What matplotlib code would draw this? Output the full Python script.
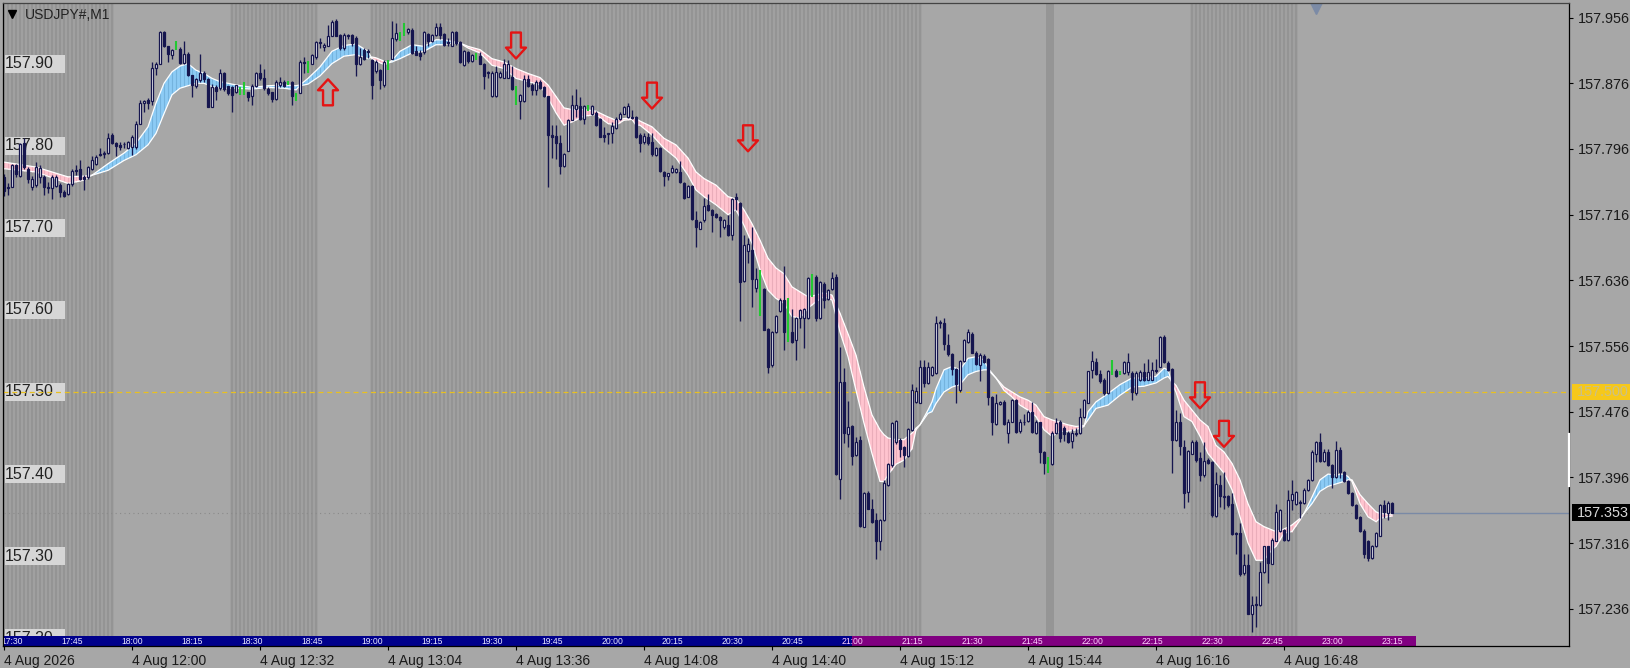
import numpy as np
import matplotlib
matplotlib.use("Agg")
import matplotlib.pyplot as plt
from matplotlib.path import Path
from matplotlib.patches import Rectangle
from matplotlib.transforms import blended_transform_factory

plt.rcParams['font.family'] = ['Liberation Sans', 'DejaVu Sans']

# all prices are thousandths above 157.000, one entry per M1 bar
opens = [762,750,750,776,763,803,772,750,752,762,
 762,750,748,751,752,743,741,753,770,772,
 762,762,772,778,790,790,791,813,803,801,
 802,797,798,798,826,852,856,854,895,899,
 938,921,910,916,918,901,912,886,873,880,
 889,881,847,871,870,889,873,872,866,862,
 862,865,860,873,888,882,869,865,857,874,
 877,874,878,854,864,902,889,900,908,926,
 920,921,934,952,935,919,935,935,931,900,
 917,915,904,891,892,874,892,906,930,927,
 933,938,941,915,913,914,936,927,935,945,
 936,926,922,938,926,898,914,903,904,909,
 899,890,860,860,884,883,883,884,850,854,
 854,881,874,868,878,871,860,813,812,803,
 775,794,831,845,848,832,842,839,840,833,
 813,814,815,822,832,839,835,835,835,813,
 804,811,804,789,797,768,763,768,768,768,
 755,738,751,710,699,709,728,722,717,713,
 701,703,691,738,730,635,672,673,627,593,
 626,577,533,573,599,612,561,573,563,590,
 590,590,616,640,590,632,613,625,640,394,
 512,449,458,423,441,336,377,357,344,319,
 344,387,411,439,442,433,422,454,488,487,
 530,511,521,523,585,584,557,546,528,502,
 538,561,571,547,533,544,540,494,461,485,
 488,450,464,490,452,464,465,476,450,463,
 427,401,412,450,464,456,450,440,450,450,
 469,487,527,536,522,515,499,521,525,521,
 523,524,523,499,515,524,515,515,527,531,
 567,535,528,441,464,433,378,425,439,419,
 399,417,415,349,387,373,373,364,328,328,
 279,289,230,242,240,281,312,291,319,331,
 332,320,369,364,366,365,381,393,425,439,
 416,427,411,396,429,403,392,377,362,348,
 331,318,298,312,325,362,353,365]
highs = [766,754,778,778,803,809,774,763,780,776,
 764,756,764,764,754,746,754,771,776,782,
 764,775,787,789,797,793,815,816,805,804,
 805,806,813,830,856,856,858,902,902,940,
 940,922,918,928,920,927,914,886,883,912,
 891,883,875,874,894,890,873,873,874,871,
 878,866,875,890,900,894,872,866,880,884,
 880,879,879,864,904,908,903,912,928,931,
 925,947,953,954,936,937,936,936,933,919,
 919,918,906,904,893,904,904,952,949,939,
 950,943,943,921,917,940,937,936,949,950,
 937,931,940,940,927,916,915,912,913,914,
 901,891,891,897,891,906,904,897,873,863,
 886,886,876,880,880,873,861,825,825,813,
 791,833,862,869,859,849,850,850,842,834,
 823,816,829,835,841,848,852,843,836,815,
 815,815,815,798,798,769,767,776,773,781,
 756,752,752,720,708,736,741,723,718,714,
 711,716,736,742,732,691,687,701,651,648,
 627,578,574,594,614,654,614,601,591,601,
 602,640,644,642,635,634,626,646,644,555,
 529,489,460,445,446,378,380,370,352,345,
 393,413,463,466,444,434,456,510,506,539,
 539,537,532,592,588,590,571,548,529,539,
 564,577,573,550,547,546,541,495,498,489,
 490,467,491,492,467,473,478,488,466,464,
 428,421,452,468,466,458,452,455,456,481,
 491,526,550,541,527,517,527,539,528,525,
 538,547,525,525,527,535,540,537,540,568,
 569,538,529,478,474,441,429,442,441,427,
 439,419,416,403,399,403,374,377,329,341,
 303,303,251,251,293,313,313,322,364,358,
 333,381,393,380,368,383,394,429,440,450,
 431,431,412,440,433,404,393,378,363,349,
 333,320,314,329,364,368,367,366]
lows = [739,740,750,762,762,772,754,746,750,754,
 740,742,735,750,738,738,740,751,764,758,
 746,760,770,776,787,785,790,802,787,795,
 797,796,789,796,826,841,845,850,886,899,
 920,902,906,916,900,900,885,859,870,878,
 878,847,847,856,868,867,862,841,864,862,
 862,854,849,871,880,868,862,853,856,872,
 871,874,850,854,864,888,889,899,906,919,
 915,921,934,934,917,917,930,921,885,898,
 904,907,857,889,869,872,892,905,927,927,
 933,936,912,910,904,912,921,926,934,930,
 921,922,921,923,901,897,901,902,904,899,
 869,883,859,859,882,882,882,868,850,833,
 853,872,862,862,869,859,750,785,784,765,
 774,794,831,835,831,827,842,837,824,810,
 804,802,803,820,831,838,834,833,809,792,
 802,801,787,788,768,751,758,767,767,755,
 735,737,710,676,698,707,721,695,712,689,
 698,690,685,722,586,634,657,604,622,593,
 575,523,530,572,598,551,561,560,539,578,
 553,589,616,586,589,602,612,624,399,370,
 438,433,411,422,336,335,357,341,297,308,
 343,386,409,437,421,409,421,453,487,486,
 506,510,520,522,578,551,544,521,487,500,
 537,560,547,533,513,535,484,447,460,484,
 460,438,463,450,450,460,464,450,449,414,
 400,401,411,449,439,440,438,432,446,449,
 468,486,517,521,511,496,498,521,518,521,
 522,521,490,496,513,513,514,514,523,530,
 535,526,401,440,423,359,366,424,415,391,
 396,412,348,348,360,358,360,326,303,276,
 277,229,208,214,239,280,267,290,318,330,
 319,319,356,362,346,364,380,392,415,415,
 415,410,383,395,395,390,376,361,345,330,
 298,294,296,311,324,346,344,352]
closes = [745,748,776,765,802,774,760,760,774,773,
 750,748,762,762,744,739,753,769,769,759,
 760,774,782,786,789,791,809,803,800,799,
 802,804,810,827,852,854,852,895,899,938,
 921,912,916,928,901,912,886,874,881,889,
 881,847,872,867,889,869,864,862,874,871,
 878,859,873,888,882,870,864,857,877,877,
 873,879,860,864,902,901,903,910,926,925,
 923,934,951,934,919,935,934,925,899,908,
 906,914,874,902,880,902,904,931,937,939,
 950,942,913,911,909,939,927,935,945,935,
 923,925,938,925,902,915,903,910,913,900,
 885,888,889,890,889,900,900,869,873,862,
 881,873,868,878,870,860,813,811,803,775,
 790,831,850,850,832,848,850,848,825,811,
 811,815,824,833,839,847,848,834,810,803,
 812,803,790,797,769,763,767,773,772,756,
 736,751,711,701,707,726,722,715,713,709,
 709,691,735,735,634,679,680,638,638,648,
 576,531,573,593,612,573,614,561,590,600,
 601,639,644,590,634,612,624,639,400,512,
 450,457,422,439,337,377,358,342,319,344,
 389,412,462,465,431,423,455,502,501,530,
 511,531,531,584,584,559,546,528,510,538,
 563,573,548,534,545,537,494,463,487,488,
 461,463,490,451,463,463,476,451,463,427,
 413,421,450,462,444,449,439,450,449,469,
 490,525,538,522,513,499,526,539,519,525,
 537,537,500,523,524,515,524,527,526,567,
 537,527,441,463,434,377,428,439,417,399,
 416,414,350,388,373,372,362,327,327,278,
 289,230,241,240,281,312,292,320,354,356,
 320,369,376,378,365,381,393,427,439,416,
 427,411,396,429,403,391,377,362,346,331,
 303,298,312,328,362,354,365,353]
# bars the indicator paints green
green_bars = [43,59,60,71,73,76,96,99,100,118,128,146,189,196,202,261,277,279]

# two moving averages
ma_bars = [0,8,16,20,22,26,30,33,36,38,40,42,44,46,48,50,52,54,58,62,66,70,73,74,76,79,82,85,88,91,92,93,95,96,97,99,
 102,105,108,110,112,114,116,119,122,125,128,131,134,136,138,140,142,145,148,151,153,155,157,158,159,162,165,168,
 171,173,175,178,181,183,185,187,189,191,193,195,197,199,201,203,205,207,209,211,213,215,217,219,220,221,223,225,
 227,228,229,231,232,233,235,237,239,241,243,245,246,248,250,252,254,256,258,260,262,264,266,268,270,271,273,276,
 279,282,285,288,290,291,292,293,295,297,299,301,303,305,307,309,311,313,315,317,318,320,322,324,325,327,329,331,
 333,335,336,337,339,341,343,344,347]
ma_fast = [772,768,754,758,764,778,791,803,823,852,876,890,897,900,892,888,882,878,874,871,873,874,873,874,882,896,915,922,924,915,906,903,899,900,904,915,
 923,921,929,929,927,925,919,913,898,894,882,878,874,858,840,825,829,836,838,827,825,831,832,825,825,813,797,785,
 764,746,738,728,716,722,703,681,649,624,614,608,592,590,602,610,616,612,573,543,502,462,425,391,391,399,412,417,
 431,454,460,478,488,504,527,531,527,541,543,539,529,517,502,494,484,478,470,454,446,452,452,454,458,476,488,498,
 509,517,517,519,529,527,510,500,470,464,446,425,413,401,381,348,316,295,295,308,312,328,330,344,352,372,393,400,
 399,400,397,391,364,348,342,346,349]
ma_slow = [780,774,762,763,764,770,782,789,801,815,839,862,870,873,876,876,872,870,870,869,871,870,868,873,875,885,900,909,911,906,908,907,903,901,902,906,
 913,915,923,923,925,925,921,917,906,902,894,888,883,874,860,846,844,844,842,835,831,833,834,833,830,823,809,801,
 785,768,760,752,738,735,722,705,685,663,651,644,628,622,616,618,621,618,596,571,545,506,472,454,448,444,442,442,
 450,456,460,474,476,486,500,506,509,521,525,527,527,517,506,500,494,490,484,470,466,463,460,458,459,466,480,484,
 496,506,507,511,517,519,513,508,490,478,466,458,435,427,413,393,364,342,336,332,330,333,338,346,352,364,379,385,
 388,391,393,393,375,364,354,352,351]

# runs of bars with the dark background histogram
stripe_runs = [(0,27),(57,78),(92,229),(297,323)]
solid_run = (261,262)

up_arrow_bars = [81]
up_arrow_prices = [865]
down_arrow_bars = [128,162,186,299,305]
down_arrow_prices = [922,861,809,496,449]

left_levels = [157.90,157.80,157.70,157.60,157.50,157.40,157.30,157.20]
right_ticks = [157.956,157.876,157.796,157.716,157.636,157.556,157.476,157.396,157.316,157.236]
bottom_tick_bars = [0,32,64,96,128,160,192,224,256,288,320]
bottom_tick_labels = ['4 Aug 2026','4 Aug 12:00','4 Aug 12:32','4 Aug 13:04','4 Aug 13:36','4 Aug 14:08',
                      '4 Aug 14:40','4 Aug 15:12','4 Aug 15:44','4 Aug 16:16','4 Aug 16:48']
strip_bars = list(range(2, 348, 15))
strip_labels = ['17:30','17:45','18:00','18:15','18:30','18:45','19:00','19:15','19:30','19:45','20:00','20:15',
                '20:30','20:45','21:00','21:15','21:30','21:45','22:00','22:15','22:30','22:45','23:00','23:15']
strip_switch = 212
strip_end = 353
level_line = 157.500
last_price = 157.353

BG = '#a7a7a7'
NAVY = '#16164f'

fig = plt.figure(figsize=(16.3, 6.68), dpi=100, facecolor=BG)
ax = fig.add_axes([3/1630, 1-646/668, 1566/1630, 643/668], facecolor=BG)
ax.set_xlim(-0.25, 391.25)
ax.set_ylim(157.1906, 157.9738)

o = 157 + np.array(opens)/1000
h = 157 + np.array(highs)/1000
l = 157 + np.array(lows)/1000
c = 157 + np.array(closes)/1000
bars = np.arange(len(o))
is_green = np.isin(bars, green_bars)

# background histogram stripes
for a, b in stripe_runs:
    ax.axvspan(a-0.5, b+0.5, color='#a0a0a0', lw=0, zorder=0.5)
    ax.bar(np.arange(a, b+1), 1, bottom=157, width=0.55, color='#949494', linewidth=0, zorder=1)
ax.axvspan(solid_run[0]-0.5, solid_run[1]+0.5, color='#959595', lw=0, zorder=1)

# left price labels
ax.barh(left_levels, 15, left=0.25, height=0.022, color='#d6d6d6', linewidth=0, zorder=2)
for lev in left_levels:
    ax.text(0.25, lev, '%.2f' % lev, fontsize=11.5, color='#222222', va='center', ha='left', zorder=3, clip_on=True)

# horizontal lines
ax.axhline(level_line, color='#e8c020', lw=0.9, ls=(0, (4, 3)), zorder=3)
ax.plot([0, 347], [last_price, last_price], color='#8a8a8a', lw=0.8, ls=(0, (1, 3)), zorder=3)
ax.plot([347, 391.25], [last_price, last_price], color='#7a8aa6', lw=1.0, zorder=3)

# ma ribbon
fast = 157 + np.array(ma_fast)/1000
slow = 157 + np.array(ma_slow)/1000
ma_x = np.array(ma_bars)
fine_x = np.linspace(0, 347, 1389)
fine_fast = np.interp(fine_x, ma_x, fast)
fine_slow = np.interp(fine_x, ma_x, slow)
ax.fill_between(fine_x, fine_fast, fine_slow, where=fine_fast >= fine_slow, color='#8ccbf5', linewidth=0, zorder=4)
ax.fill_between(fine_x, fine_fast, fine_slow, where=fine_fast < fine_slow, color='#ffc4cf', linewidth=0, zorder=4)
bar_fast = np.interp(bars, ma_x, fast)
bar_slow = np.interp(bars, ma_x, slow)
rising = bar_fast >= bar_slow
ax.vlines(bars[rising], bar_slow[rising], bar_fast[rising], color='#74b3de', lw=0.8, zorder=5)
ax.vlines(bars[~rising], bar_fast[~rising], bar_slow[~rising], color='#eaadba', lw=0.8, zorder=5)
ax.plot(ma_x, fast, color='white', lw=0.9, zorder=6)
ax.plot(ma_x, slow, color='white', lw=0.9, zorder=6)

# candles
norm = ~is_green
ax.vlines(bars[norm], l[norm], h[norm], color=NAVY, lw=0.95, zorder=7)
body_low = np.minimum(o, c)
body_h = np.abs(c-o)
face = np.where(c >= o, '#ffffff', NAVY)
ax.bar(bars[norm], body_h[norm], bottom=body_low[norm], width=0.6, color=face[norm], edgecolor=NAVY,
       linewidth=0.9, zorder=8)
ax.vlines(bars[is_green], l[is_green], h[is_green], color='#22c832', lw=1.5, zorder=8)

# signal arrows
up_path = Path([(0, .5), (.385, .08), (.19, .08), (.19, -.5), (-.19, -.5), (-.19, .08), (-.385, .08), (0, .5)], closed=True)
down_path = Path([(0, -.5), (.385, -.08), (.19, -.08), (.19, .5), (-.19, .5), (-.19, -.08), (-.385, -.08), (0, -.5)], closed=True)
ax.scatter(up_arrow_bars, 157 + np.array(up_arrow_prices)/1000, marker=up_path, s=350, facecolors='none',
           edgecolors='#e41414', linewidths=1.7, zorder=9)
ax.scatter(down_arrow_bars, 157 + np.array(down_arrow_prices)/1000, marker=down_path, s=350, facecolors='none',
           edgecolors='#e41414', linewidths=1.7, zorder=9)

# time strip along the bottom
xtrans = blended_transform_factory(ax.transData, ax.transAxes)
strip_h = 10/643
ax.add_patch(Rectangle((-0.25, 0), strip_switch+0.25, strip_h, transform=xtrans, color='#00008b', lw=0, zorder=10))
ax.add_patch(Rectangle((strip_switch, 0), strip_end-strip_switch, strip_h, transform=xtrans, color='#800080', lw=0, zorder=10))
for b, lab in zip(strip_bars, strip_labels):
    col = '#ffd0ff' if b >= strip_switch else '#e8e8ff'
    ax.text(b, strip_h/2, lab, transform=xtrans, fontsize=6.2, color=col, ha='center', va='center', zorder=11, clip_on=True)

# header
ax.plot([0.00575], [0.983], marker='v', ms=5.5, color='black', transform=ax.transAxes, zorder=12)
ax.text(22/1566, 0.982, 'USDJPY#,M1', transform=ax.transAxes, fontsize=10, color='#222222', va='center', ha='left', zorder=12)
ax.plot([328], [0.9985], marker='v', ms=14, color='#7c8ba6', transform=xtrans, zorder=3, clip_on=True)

# axes
for side in ['top', 'left', 'right', 'bottom']:
    ax.spines[side].set_color('black')
    ax.spines[side].set_linewidth(0.9)
    ax.spines[side].set_zorder(13)
ax.spines['top'].set_color('#444444')
ax.yaxis.tick_right()
ax.set_yticks(right_ticks)
ax.set_yticklabels(['%.3f' % t for t in right_ticks])
ax.tick_params(axis='y', length=3, width=0.8, pad=3.5, labelsize=10.4, labelcolor='#1a1a1a')
ax.set_xticks(bottom_tick_bars)
ax.set_xticklabels(bottom_tick_labels, ha='left')
ax.tick_params(axis='x', length=3, width=0.8, pad=3, labelsize=10, labelcolor='#1a1a1a')

# price tags on the right scale
ytag = blended_transform_factory(ax.transAxes, ax.transData)
tag_w = 60/1566
tag_x = 1 + 3/1566
ax.add_patch(Rectangle((tag_x, level_line-0.0098), tag_w, 0.0196, transform=ytag, color='#f6c81a', lw=0, clip_on=False, zorder=14))
ax.text(1 + 8/1566, level_line, '%.3f' % level_line, transform=ytag, fontsize=10.4, color='#c9c08a', va='center', ha='left', zorder=15, clip_on=False)
ax.add_patch(Rectangle((tag_x, last_price-0.0104), tag_w, 0.0208, transform=ytag, color='black', lw=0, clip_on=False, zorder=14))
ax.text(1 + 8/1566, last_price, '%.3f' % last_price, transform=ytag, fontsize=10.4, color='#d8d8d8', va='center', ha='left', zorder=15, clip_on=False)
ax.plot([1, 1], [157.386, 157.449], color='white', lw=1.6, transform=ytag, clip_on=False, zorder=14)

fig.savefig('out.png', dpi=100, facecolor=BG)
